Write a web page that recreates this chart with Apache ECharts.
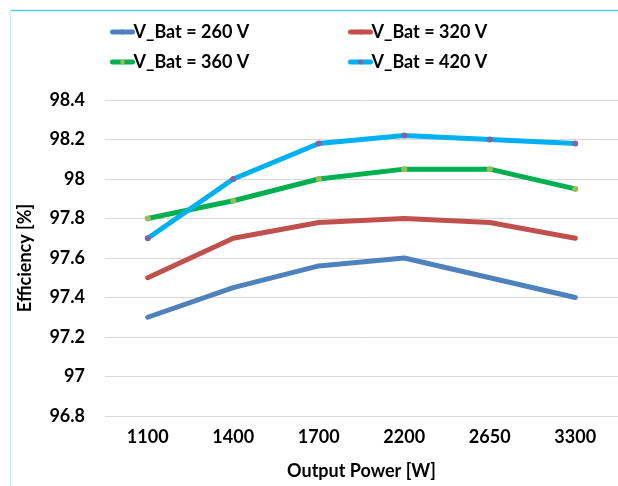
<!DOCTYPE html>
<html>
<head>
<meta charset="utf-8">
<script src="https://cdn.jsdelivr.net/npm/echarts@6/dist/echarts.min.js"></script>
<style>html,body{margin:0;padding:0;background:#fff;}#c{width:618px;height:486px;}</style>
</head>
<body>
<div id="c"></div>
<script>
const categories = ['1100', '1400', '1700', '2200', '2650', '3300'];
const seriesNames = ['V_Bat = 260 V', 'V_Bat = 320 V', 'V_Bat = 360 V', 'V_Bat = 420 V'];
const v260 = [97.3, 97.45, 97.56, 97.6, 97.5, 97.4];
const v320 = [97.5, 97.7, 97.78, 97.8, 97.78, 97.7];
const v360 = [97.8, 97.89, 98.0, 98.05, 98.05, 97.95];
const v420 = [97.7, 98.0, 98.18, 98.22, 98.2, 98.18];
const yMin = 96.8, yMax = 98.4, yStep = 0.2;

const FONT = 'Lato';
const lineColors = ['#4F81BD', '#C0504D', '#00B050', '#00B0F0'];
const markColors = ['#4F81BD', '#C0504D', '#9BBB59', '#8064A2'];
const dataSets = [v260, v320, v360, v420];
const legendPos = [[110, 22], [348, 22], [110, 52], [348, 52]];

const chart = echarts.init(document.getElementById('c'), null, {renderer: 'canvas'});
chart.setOption({
  backgroundColor: '#ffffff',
  animation: false,
  graphic: [
    {type: 'line', shape: {x1: 11, y1: 10.5, x2: 618, y2: 10.5}, style: {stroke: '#55C8F5', lineWidth: 1.5}, z: 10},
    {type: 'line', shape: {x1: 10.5, y1: 10, x2: 10.5, y2: 486}, style: {stroke: '#C8ECFB', lineWidth: 1.5}, z: 10}
  ],
  legend: seriesNames.map((n, i) => ({
    data: [n],
    left: legendPos[i][0],
    top: legendPos[i][1],
    padding: 0,
    itemWidth: 20,
    itemHeight: 6,
    itemGap: 0,
    lineStyle: {width: 5, cap: 'round'},
    textStyle: {fontFamily: FONT, fontWeight: 'bold', fontSize: 18, color: '#000', padding: [0, 0, 0, -4], lineHeight: 20}
  })),
  grid: {left: 105, right: -9, top: 100, bottom: 70, containLabel: false},
  xAxis: {
    type: 'category',
    data: categories,
    boundaryGap: true,
    axisLine: {show: false},
    axisTick: {show: false},
    axisLabel: {fontFamily: FONT, fontWeight: 'bold', fontSize: 18, color: '#000', margin: 12},
    name: 'Output Power [W]',
    nameLocation: 'middle',
    nameGap: 46,
    nameTextStyle: {fontFamily: FONT, fontWeight: 'bold', fontSize: 18, color: '#000'}
  },
  yAxis: {
    type: 'value',
    min: yMin,
    max: yMax,
    interval: yStep,
    axisLine: {show: false},
    axisTick: {show: false},
    splitLine: {lineStyle: {color: '#D9D9D9', width: 1}},
    axisLabel: {
      fontFamily: FONT, fontWeight: 'bold', fontSize: 18, color: '#000', margin: 20,
      formatter: v => String(parseFloat(v.toFixed(1)))
    },
    name: 'Efficiency [%]',
    nameLocation: 'middle',
    nameGap: 71,
    nameTextStyle: {fontFamily: FONT, fontWeight: 'bold', fontSize: 18, color: '#000'}
  },
  series: seriesNames.map((n, i) => ({
    name: n,
    type: 'line',
    data: dataSets[i],
    symbol: 'circle',
    symbolSize: i >= 2 ? 6 : 4,
    showSymbol: true,
    lineStyle: {color: lineColors[i], width: 5, cap: 'round', join: 'round'},
    itemStyle: {color: markColors[i], borderWidth: 0},
    emphasis: {disabled: true},
    z: 2 + i
  }))
});
</script>
</body>
</html>
